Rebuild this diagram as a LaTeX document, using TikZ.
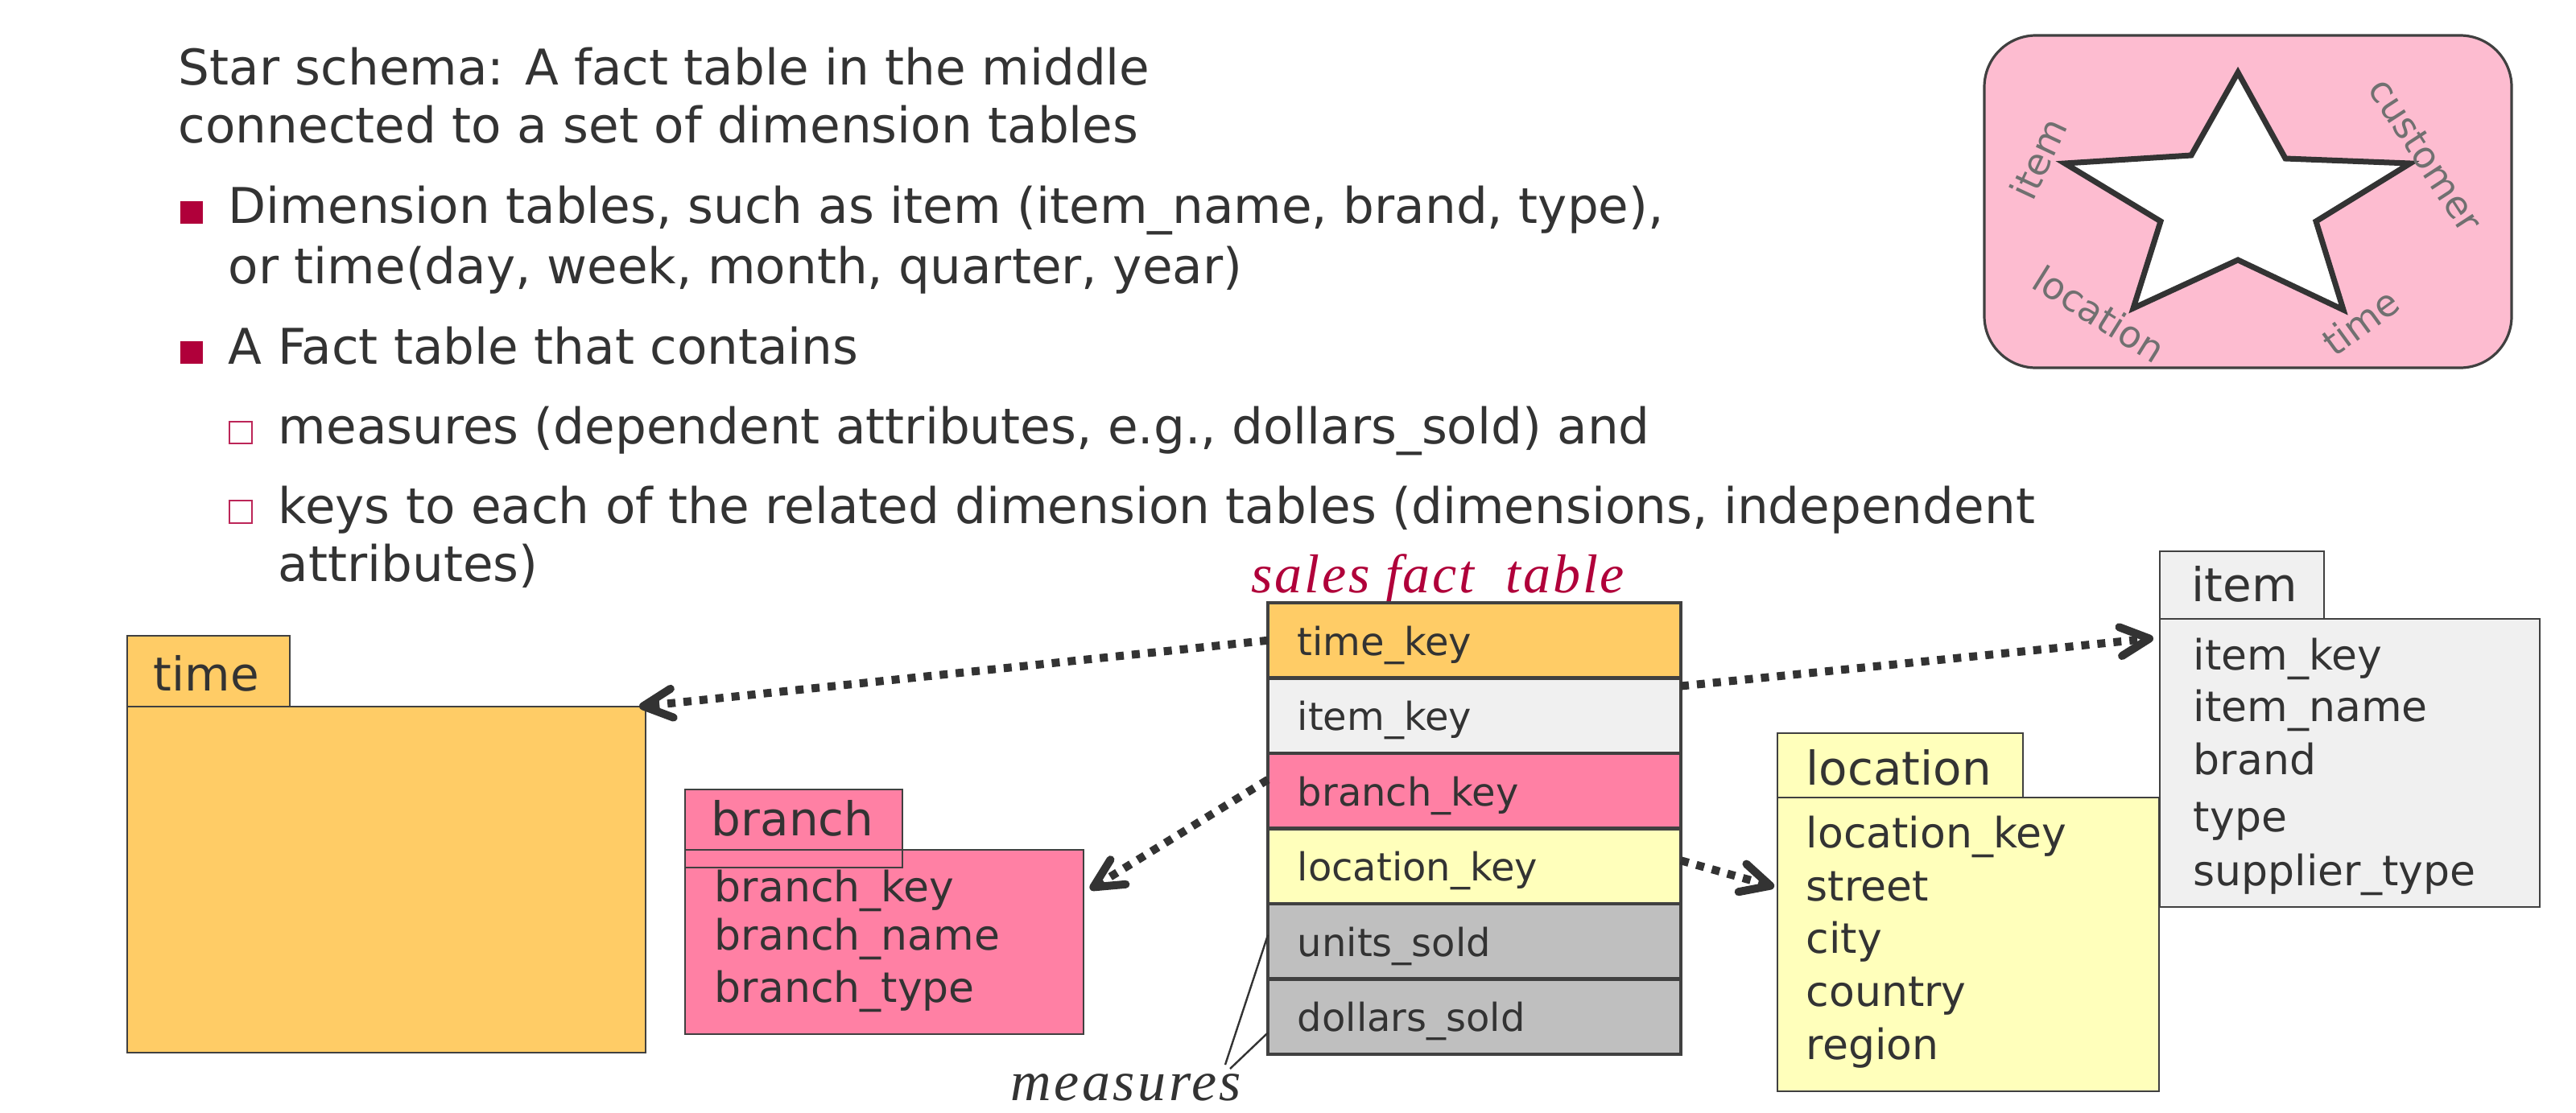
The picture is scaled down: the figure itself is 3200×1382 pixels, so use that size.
\documentclass[tikz,border=0pt]{standalone}
\usepackage{fontspec}
\setmainfont{DejaVu Sans}
\newfontfamily\tnr{Liberation Serif}
\usetikzlibrary{arrows.meta}
\definecolor{txt}{HTML}{333333}
\definecolor{crim}{HTML}{B0003A}
\definecolor{timeC}{HTML}{FFCC66}
\definecolor{itemC}{HTML}{F0F0F0}
\definecolor{branchC}{HTML}{FF80A4}
\definecolor{locC}{HTML}{FFFFBB}
\definecolor{measC}{HTML}{BFBFBF}
\definecolor{starbg}{HTML}{FDBCD0}
\definecolor{edge}{HTML}{404040}
\definecolor{lbl}{HTML}{707070}
\begin{document}
\begin{tikzpicture}[x=0.25pt,y=-0.25pt,
  box/.style={draw=edge, line width=0.6pt, inner sep=0pt, outer sep=0pt},
  frow/.style={draw=edge, line width=1.2pt, inner sep=0pt, outer sep=0pt, minimum width=128.25pt, minimum height=23.375pt},
  main/.style={anchor=base west, inner sep=0pt, text=txt, font=\fontsize{15.3pt}{18pt}\selectfont},
  fld/.style={anchor=base west, inner sep=0pt, text=txt, font=\fontsize{13pt}{15pt}\selectfont},
  hdr/.style={anchor=base west, inner sep=0pt, text=txt, font=\fontsize{14.5pt}{17pt}\selectfont},
  ftxt/.style={anchor=base west, inner sep=0pt, text=txt, font=\fontsize{12pt}{14pt}\selectfont},
  starlbl/.style={inner sep=0pt, text=lbl, font=\fontsize{11.5pt}{13pt}\selectfont},
  fullbul/.style={fill=crim, inner sep=0pt, minimum size=7pt},
  openbul/.style={draw=crim!85, line width=0.5pt, inner sep=0pt, minimum size=6.8pt},
  conn/.style={draw=txt, line width=2.5pt, dash pattern=on 2.5pt off 2.5pt, -{Straight Barb[length=9pt,width=9pt,round]}},
  pointer/.style={draw=txt, line width=0.6pt}
]
\useasboundingbox (0,0) rectangle (3200,1382);
\fill[white] (0,0) rectangle (3200,1382);

% ---- text block ----
\node[main] (t1) at (221,105) {Star schema: A fact table in the middle};
\node[main] (t2) at (221,177) {connected to a set of dimension tables};
\node[fullbul] (b1) at (237.5,264) {};
\node[main] (t3) at (283,277) {Dimension tables, such as item (item\_name, brand, type),};
\node[main] (t4) at (283,352) {or time(day, week, month, quarter, year)};
\node[fullbul] (b2) at (238,438) {};
\node[main] (t5) at (283,452) {A Fact table that contains};
\node[openbul] (s1) at (299,537.5) {};
\node[main] (t6) at (345,551) {measures (dependent attributes, e.g., dollars\_sold) and};
\node[openbul] (s2) at (299,636) {};
\node[main] (t7) at (345,650) {keys to each of the related dimension tables (dimensions, independent};
\node[main] (t8) at (345,722) {attributes)};

% ---- star icon ----
\draw[draw=edge, line width=0.8pt, fill=starbg, rounded corners=16pt] (2465,44) rectangle (3120,457);
\draw[draw=txt, line width=1.75pt, fill=white, line join=miter]
  (2780,90) -- (2839,197) -- (2994,203) -- (2877,275) -- (2911,385) -- (2780,323)
  -- (2650,383) -- (2684,275) -- (2565,203) -- (2722,193) -- cycle;
\node[starlbl, rotate=65] (sitem) at (2532,197) {item};
\node[starlbl, rotate=-57] (scust) at (3013,193) {customer};
\node[starlbl, rotate=-32] (sloc) at (2608,390) {location};
\node[starlbl, rotate=36] (stime) at (2932,400) {time};

% ---- fact table ----
\node[anchor=base west, inner sep=0pt, text=crim, font=\tnr\itshape\fontsize{17pt}{20pt}\selectfont\addfontfeature{LetterSpace=4}] (ftitle) at (1554,736) {sales fact\ \ table};
\node[frow, fill=timeC] (ftime) at (1831.5,795.75) {};
\node[frow, fill=itemC] (fitem) at (1831.5,889.25) {};
\node[frow, fill=branchC] (fbranch) at (1831.5,982.75) {};
\node[frow, fill=locC] (floc) at (1831.5,1076.25) {};
\node[frow, fill=measC] (funits) at (1831.5,1169.75) {};
\node[frow, fill=measC] (fdollars) at (1831.5,1263.25) {};
\node[ftxt] (ft1) at (1611,814) {time\_key};
\node[ftxt] (ft2) at (1611,907.5) {item\_key};
\node[ftxt] (ft3) at (1611,1001) {branch\_key};
\node[ftxt] (ft4) at (1611,1094.5) {location\_key};
\node[ftxt] (ft5) at (1611,1188) {units\_sold};
\node[ftxt] (ft6) at (1611,1281.5) {dollars\_sold};

% ---- measures label ----
\node[anchor=base west, inner sep=0pt, text=txt, font=\tnr\itshape\fontsize{17.5pt}{20pt}\selectfont\addfontfeature{LetterSpace=5}] (meas) at (1255,1367) {measures};
\coordinate (m1) at (1522,1323);
\coordinate (m2) at (1528,1328);
\draw[pointer] (m1) -- ([yshift=2pt]funits.west);
\draw[pointer] (m2) -- ([yshift=-5pt]fdollars.west);

% ---- time table ----
\node[box, fill=timeC, minimum width=161pt, minimum height=107.5pt] (tbody) at (480,1093) {};
\node[box, fill=timeC, minimum width=50.5pt, minimum height=22pt] (ttab) at (259,834) {};
\node[hdr] (thdr) at (190,858) {time};

% ---- branch table ----
\node[box, fill=branchC, minimum width=123.75pt, minimum height=57.25pt] (bbody) at (1098.5,1170.5) {};
\node[box, fill=branchC, minimum width=67.5pt, minimum height=5.5pt] (bstrip) at (986,1067) {};
\node[box, fill=branchC, minimum width=67.5pt, minimum height=18.75pt] (btab) at (986,1018.5) {};
\node[hdr] (bhdr) at (883,1038) {branch};
\node[fld] (bf1) at (887,1120) {branch\_key};
\node[fld] (bf2) at (887,1180) {branch\_name};
\node[fld] (bf3) at (887,1245) {branch\_type};

% ---- location table ----
\node[box, fill=locC, minimum width=118.5pt, minimum height=91.25pt] (lbody) at (2445,1173.5) {};
\node[box, fill=locC, minimum width=76.25pt, minimum height=20pt] (ltab) at (2360.5,951) {};
\node[hdr] (lhdr) at (2243,975) {location};
\node[fld] (lf1) at (2243,1053) {location\_key};
\node[fld] (lf2) at (2243,1119) {street};
\node[fld] (lf3) at (2243,1184) {city};
\node[fld] (lf4) at (2243,1250) {country};
\node[fld] (lf5) at (2243,1316) {region};

% ---- item table ----
\node[box, fill=itemC, minimum width=118pt, minimum height=89.5pt] (ibody) at (2919,948) {};
\node[box, fill=itemC, minimum width=51pt, minimum height=21pt] (itab) at (2785,727) {};
\node[hdr] (ihdr) at (2722,747) {item};
\node[fld] (if1) at (2724,832) {item\_key};
\node[fld] (if2) at (2724,896) {item\_name};
\node[fld] (if3) at (2724,962) {brand};
\node[fld] (if4) at (2724,1033) {type};
\node[fld] (if5) at (2724,1100) {supplier\_type};

% ---- connectors ----
\draw[conn] (ftime.west) -- ([xshift=-2pt]tbody.north east);
\draw[conn] ([yshift=-2.5pt]fitem.north east) -- ([xshift=-2pt,yshift=-6pt]ibody.north west);
\draw[conn] ([yshift=3.5pt]fbranch.west) -- ([xshift=2pt,yshift=-12.25pt]bbody.north east);
\draw[conn] ([yshift=1.75pt]floc.east) -- ([xshift=-1pt,yshift=-27.75pt]lbody.north west);
\end{tikzpicture}
\end{document}
